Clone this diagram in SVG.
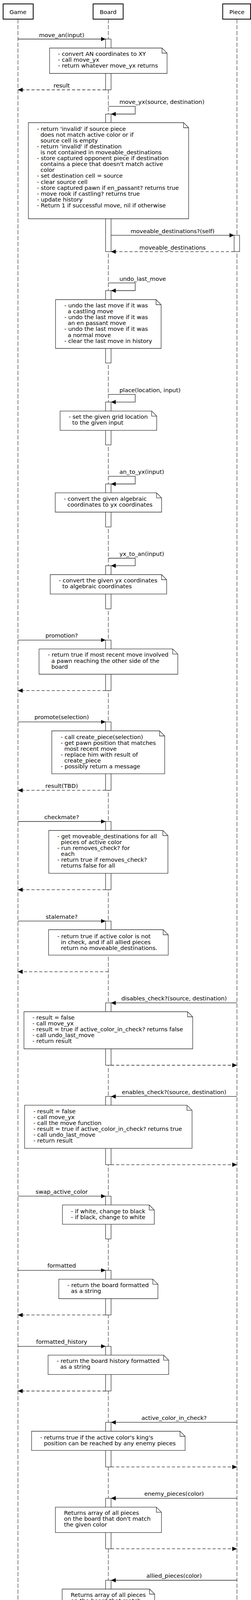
<svg xmlns="http://www.w3.org/2000/svg" width="643" height="4803" viewBox="0 0 643 4803">
<style>
text{font-family:"DejaVu Sans","Liberation Sans",sans-serif;font-size:14.7px;fill:#000}
.m{text-anchor:middle}
.hdr{fill:#fff;stroke:#000;stroke-width:2}
.life{stroke:#444;stroke-width:1.3;stroke-dasharray:11 4;fill:none}
.act{fill:#fff;stroke:#333;stroke-width:1.3}
.nb{fill:#fff;stroke:#333;stroke-width:1.3}
.nf{fill:none;stroke:#333;stroke-width:1.3}
.msg{stroke:#222;stroke-width:1.3;fill:none;marker-end:url(#ah)}
.ret{stroke:#222;stroke-width:1.3;fill:none;stroke-dasharray:8 5;marker-end:url(#ah)}
</style>
<defs>
<marker id="ah" markerUnits="userSpaceOnUse" markerWidth="12" markerHeight="12" refX="12" refY="5.5" orient="auto"><path d="M0,0 L12,5.5 L0,11 z" fill="#000"/></marker>
</defs>
<rect width="643" height="4803" fill="#fff"/>
<g id="lifelines">
<line class="life" x1="46" y1="49" x2="46" y2="4800"/>
<line class="life" x1="277.5" y1="49" x2="277.5" y2="4800"/>
<line class="life" x1="607" y1="49" x2="607" y2="4800"/>
</g>
<g id="Game"><rect class="hdr" x="8" y="10" width="77" height="39"/><text class="m" x="46" y="35.5">Game</text></g>
<g id="Board"><rect class="hdr" x="238.5" y="10" width="77" height="39"/><text class="m" x="277" y="35.5">Board</text></g>
<g id="Piece"><rect class="hdr" x="570.5" y="10" width="71.5" height="39"/><text class="m" x="607" y="35.5">Piece</text></g>
<g id="activations">
<rect class="act" x="270.5" y="100" width="14" height="130"/>
<rect class="act" x="270.5" y="292" width="14" height="352.3"/>
<rect class="act" x="599.7" y="602.3" width="14" height="42"/>
<rect class="act" x="270.5" y="744" width="14" height="185.3"/>
<rect class="act" x="270.5" y="1029.3" width="14" height="109.7"/>
<rect class="act" x="270.5" y="1239" width="14" height="110"/>
<rect class="act" x="270.5" y="1448.3" width="14" height="110.4"/>
<rect class="act" x="270.5" y="1638.6" width="14" height="129.3"/>
<rect class="act" x="270.5" y="1848.1" width="14" height="175.1"/>
<rect class="act" x="270.5" y="2103" width="14" height="174.7"/>
<rect class="act" x="270.5" y="2357.9" width="14" height="40"/>
<rect class="act" x="270.5" y="2567.4" width="14" height="159.6"/>
<rect class="act" x="270.5" y="2806.9" width="14" height="174.7"/>
<rect class="act" x="270.5" y="3062.2" width="14" height="109.5"/>
<rect class="act" x="270.5" y="3252.1" width="14" height="114.3"/>
<rect class="act" x="270.5" y="3446.6" width="14" height="114.4"/>
<rect class="act" x="270.5" y="3641.2" width="14" height="114.2"/>
<rect class="act" x="270.5" y="3835.6" width="14" height="129.3"/>
<rect class="act" x="270.5" y="4045.5" width="14" height="129.3"/>
<rect class="act" x="270.5" y="4254.3" width="14" height="130.4"/>
<rect class="act" x="270.5" y="4427.6" width="14" height="145.2"/>
<rect class="act" x="270.5" y="4653" width="14" height="100.2"/>
</g>
<g id="connectors">
<path class="msg" d="M46,100 H270.5"/><text class="m" x="158" y="95">move_an(input)</text>
<path class="ret" d="M270.5,230 H46"/><text class="m" x="158" y="223.5">result</text>
<path class="msg" d="M277.5,272.3 H346.4 V292 H284.5"/><text x="306" y="266">move_yx(source, destination)</text>
<path class="msg" d="M284.5,602.3 H599.7"/><text class="m" x="442" y="597">moveable_destinations?(self)</text>
<path class="ret" d="M599.7,644.3 H284.5"/><text class="m" x="442" y="638.5">moveable_destinations</text>
<path class="msg" d="M277.5,724.3 H346.4 V744 H284.5"/><text x="306" y="718.5">undo_last_move</text>
<path class="msg" d="M277.5,1009.7 H346.4 V1029.3 H284.5"/><text x="306" y="1003.5">place(location, input)</text>
<path class="msg" d="M277.5,1219.3 H346.4 V1239 H284.5"/><text x="306" y="1212.7">an_to_yx(input)</text>
<path class="msg" d="M277.5,1429 H346.4 V1448.3 H284.5"/><text x="306" y="1422.7">yx_to_an(input)</text>
<path class="msg" d="M46,1638.6 H270.5"/><text class="m" x="158" y="1632.4">promotion?</text>
<path class="ret" d="M270.5,1767.9 H46"/>
<path class="msg" d="M46,1848.1 H270.5"/><text class="m" x="158" y="1841.3">promote(selection)</text>
<path class="ret" d="M270.5,2023.2 H46"/><text class="m" x="158" y="2017">result(TBD)</text>
<path class="msg" d="M46,2103 H270.5"/><text class="m" x="158" y="2096.6">checkmate?</text>
<path class="ret" d="M270.5,2277.7 H46"/>
<path class="msg" d="M46,2357.9 H270.5"/><text class="m" x="158" y="2351.7">stalemate?</text>
<path class="ret" d="M277.5,2487.6 H46"/>
<path class="msg" d="M607,2567.4 H284.5"/><text class="m" x="446" y="2561">disables_check?(source, destination)</text>
<path class="ret" d="M284.5,2727 H607"/>
<path class="msg" d="M607,2806.9 H284.5"/><text class="m" x="446" y="2800.7">enables_check?(source, destination)</text>
<path class="ret" d="M284.5,2981.6 H607"/>
<path class="msg" d="M46,3062.2 H270.5"/><text class="m" x="158" y="3055.7">swap_active_color</text>
<path class="msg" d="M46,3252.1 H270.5"/><text class="m" x="158" y="3245.3">formatted</text>
<path class="ret" d="M270.5,3366.4 H46"/>
<path class="msg" d="M46,3446.6 H270.5"/><text class="m" x="158" y="3439.8">formatted_history</text>
<path class="ret" d="M270.5,3561 H46"/>
<path class="msg" d="M607,3641.2 H284.5"/><text class="m" x="446" y="3634.7">active_color_in_check?</text>
<path class="ret" d="M284.5,3755.4 H607"/>
<path class="msg" d="M607,3835.6 H284.5"/><text class="m" x="446" y="3829.4">enemy_pieces(color)</text>
<path class="ret" d="M284.5,3964.9 H607"/>
<path class="msg" d="M607,4045.5 H284.5"/><text class="m" x="446" y="4038.6">allied_pieces(color)</text>
<path class="ret" d="M284.5,4174.8 H607"/>
<path class="msg" d="M607,4254.3 H284.5"/><text class="m" x="446" y="4248.5">location(piece)</text>
<path class="ret" d="M284.5,4384.7 H607"/>
<path class="msg" d="M607,4427.6 H284.5"/><text class="m" x="446" y="4421.2">valid_location?(position)</text>
<path class="ret" d="M284.5,4572.8 H607"/>
<path class="msg" d="M607,4653 H284.5"/><text class="m" x="446" y="4646.6">contents(position)</text>
<path class="ret" d="M284.5,4753.2 H607"/>
</g>
<g id="note-move_an">
<path class="nb" d="M127,123 H415 L428,136 V188 H127 Z"/><path class="nf" d="M415,123 V136 H428"/>
<text x="148.5" y="143.3">- convert AN coordinates to XY</text>
<text x="148.5" y="158.3">- call move_yx</text>
<text x="148.5" y="173.3">- return whatever move_yx returns</text>
</g>
<g id="note-move_yx">
<path class="nb" d="M72.6,314 H470.3 L483.3,327 V560 H72.6 Z"/><path class="nf" d="M470.3,314 V327 H483.3"/>
<text x="94.6" y="335">- return 'invalid' if source piece</text>
<text x="103.7" y="350">does not match active color or if</text>
<text x="103.7" y="365">source cell is empty</text>
<text x="94.6" y="380">- return 'invalid' if destination</text>
<text x="103.7" y="395">is not contained in moveable_destinations</text>
<text x="94.6" y="410">- store captured opponent piece if destination</text>
<text x="103.7" y="425">contains a piece that doesn't match active</text>
<text x="103.7" y="440">color</text>
<text x="94.6" y="455">- set destination cell = source</text>
<text x="94.6" y="470.7">- clear source cell</text>
<text x="94.6" y="486">- store captured pawn if en_passant? returns true</text>
<text x="94.6" y="501">- move rook if castling? returns true</text>
<text x="94.6" y="516">- update history</text>
<text x="94.6" y="531">- Return 1 if successful move, nil if otherwise</text>
</g>
<g id="note-undo_last_move">
<path class="nb" d="M142.3,767 H399.7 L412.7,780 V892 H142.3 Z"/><path class="nf" d="M399.7,767 V780 H412.7"/>
<text x="164.7" y="787.3">- undo the last move if it was</text>
<text x="173.4" y="802.3">a castling move</text>
<text x="164.7" y="817.3">- undo the last move if it was</text>
<text x="173.4" y="832.3">an en passant move</text>
<text x="164.7" y="847.3">- undo the last move if it was</text>
<text x="173.4" y="862.5">a normal move</text>
<text x="164.7" y="878">- clear the last move in history</text>
</g>
<g id="note-place">
<path class="nb" d="M153.9,1052.3 H388.5 L401.5,1065.3 V1101.7 H153.9 Z"/><path class="nf" d="M388.5,1052.3 V1065.3 H401.5"/>
<text x="175.9" y="1072.3">- set the given grid location</text>
<text x="185" y="1087.3">to the given input</text>
</g>
<g id="note-an_to_yx">
<path class="nb" d="M141.5,1261.7 H401 L414,1274.7 V1311 H141.5 Z"/><path class="nf" d="M401,1261.7 V1274.7 H414"/>
<text x="163.4" y="1282.3">- convert the given algebraic</text>
<text x="172.6" y="1297.3">coordinates to yx coordinates</text>
</g>
<g id="note-yx_to_an">
<path class="nb" d="M128.6,1471 H413.9 L426.9,1484 V1520.7 H128.6 Z"/><path class="nf" d="M413.9,1471 V1484 H426.9"/>
<text x="150.6" y="1491">- convert the given yx coordinates</text>
<text x="159.7" y="1506">to algebraic coordinates</text>
</g>
<g id="note-promotion">
<path class="nb" d="M100,1661.4 H442.5 L455.5,1674.4 V1726 H100 Z"/><path class="nf" d="M442.5,1661.4 V1674.4 H455.5"/>
<text x="122.4" y="1681.2">- return true if most recent move involved</text>
<text x="131.5" y="1696.6">a pawn reaching the other side of the</text>
<text x="131.5" y="1711.6">board</text>
</g>
<g id="note-promote">
<path class="nb" d="M132.7,1871 H408.9 L421.9,1884 V1980.9 H132.7 Z"/><path class="nf" d="M408.9,1871 V1884 H421.9"/>
<text x="155.6" y="1891.8">- call create_piece(selection)</text>
<text x="155.6" y="1906.8">- get pawn position that matches</text>
<text x="164.7" y="1921.8">most recent move</text>
<text x="155.6" y="1936.9">- replace him with result of</text>
<text x="164.7" y="1951.9">create_piece</text>
<text x="155.6" y="1966.9">- possibly return a message</text>
</g>
<g id="note-checkmate">
<path class="nb" d="M124.9,2126 H417.2 L430.2,2139 V2235.7 H124.9 Z"/><path class="nf" d="M417.2,2126 V2139 H430.2"/>
<text x="146.8" y="2145.9">- get moveable_destinations for all</text>
<text x="156" y="2160.9">pieces of active color</text>
<text x="146.8" y="2176">- run removes_check? for</text>
<text x="156" y="2191">each</text>
<text x="146.8" y="2206">- return true if removes_check?</text>
<text x="156" y="2221">returns false for all</text>
</g>
<g id="note-stalemate">
<path class="nb" d="M124.4,2380 H418 L431,2393 V2445.2 H124.4 Z"/><path class="nf" d="M418,2380 V2393 H431"/>
<text x="146.8" y="2401.6">- return true if active color is not</text>
<text x="156" y="2416.6">in check, and if all allied pieces</text>
<text x="156" y="2431.6">return no moveable_destinations.</text>
</g>
<g id="note-disables_check">
<path class="nb" d="M61.4,2590 H480.6 L493.6,2603 V2685 H61.4 Z"/><path class="nf" d="M480.6,2590 V2603 H493.6"/>
<text x="83" y="2610.4">- result = false</text>
<text x="83" y="2625.4">- call move_yx</text>
<text x="83" y="2640.4">- result = true if active_color_in_check? returns false</text>
<text x="83" y="2655.4">- call undo_last_move</text>
<text x="83" y="2670.4">- return result</text>
</g>
<g id="note-enables_check">
<path class="nb" d="M63,2829.4 H479 L492,2842.4 V2939.6 H63 Z"/><path class="nf" d="M479,2829.4 V2842.4 H492"/>
<text x="85.4" y="2850.2">- result = false</text>
<text x="85.4" y="2865.2">- call move_yx</text>
<text x="85.4" y="2880.2">- call the move function</text>
<text x="85.4" y="2895.2">- result = true if active_color_in_check? returns true</text>
<text x="85.4" y="2910.2">- call undo_last_move</text>
<text x="85.4" y="2925.2">- return result</text>
</g>
<g id="note-swap_active_color">
<path class="nb" d="M160,3084.7 H382.3 L395.3,3097.7 V3134.2 H160 Z"/><path class="nf" d="M382.3,3084.7 V3097.7 H395.3"/>
<text x="181.7" y="3105.5">- if white, change to black</text>
<text x="181.7" y="3120.5">- if black, change to white</text>
</g>
<g id="note-formatted">
<path class="nb" d="M150.6,3274.6 H391.5 L404.5,3287.6 V3324.5 H150.6 Z"/><path class="nf" d="M391.5,3274.6 V3287.6 H404.5"/>
<text x="172.6" y="3295.4">- return the board formatted</text>
<text x="181.7" y="3310.4">as a string</text>
</g>
<g id="note-formatted_history">
<path class="nb" d="M123.2,3469.2 H419.3 L432.3,3482.2 V3518.7 H123.2 Z"/><path class="nf" d="M419.3,3469.2 V3482.2 H432.3"/>
<text x="145.2" y="3489.3">- return the board history formatted</text>
<text x="154.3" y="3504.3">as a string</text>
</g>
<g id="note-active_color_in_check">
<path class="nb" d="M80.9,3664 H461.2 L474.2,3677 V3713.2 H80.9 Z"/><path class="nf" d="M461.2,3664 V3677 H474.2"/>
<text x="102.9" y="3684.5">- returns true if the active color's king's</text>
<text x="112.4" y="3699.5">position can be reached by any enemy pieces</text>
</g>
<g id="note-enemy_pieces">
<path class="nb" d="M141.9,3858.4 H400.6 L413.6,3871.4 V3923.3 H141.9 Z"/><path class="nf" d="M400.6,3858.4 V3871.4 H413.6"/>
<text x="163.9" y="3878.2">Returns array of all pieces</text>
<text x="163.9" y="3893.2">on the board that don't match</text>
<text x="163.9" y="3908.2">the given color</text>
</g>
<g id="note-allied_pieces">
<path class="nb" d="M159.3,4068 H383.2 L396.2,4081 V4132.8 H159.3 Z"/><path class="nf" d="M383.2,4068 V4081 H396.2"/>
<text x="181.3" y="4088.1">Returns array of all pieces</text>
<text x="181.3" y="4103.1">on the board that match</text>
<text x="181.3" y="4118.1">the given color</text>
</g>
<g id="note-location">
<path class="nb" d="M167.2,4277.4 H374.9 L387.9,4290.4 V4342.3 H167.2 Z"/><path class="nf" d="M374.9,4277.4 V4290.4 H387.9"/>
<text x="189.2" y="4297">Returns the position on</text>
<text x="189.2" y="4312">the board for a given</text>
<text x="189.2" y="4327">piece</text>
</g>
<g id="note-valid_location">
<path class="nb" d="M149.3,4450.3 H392.7 L405.7,4463.3 V4530.2 H149.3 Z"/><path class="nf" d="M392.7,4450.3 V4463.3 H405.7"/>
<text x="171.3" y="4470.6">- Returns true if the position</text>
<text x="180.9" y="4485.6">exists on the board</text>
<text x="171.3" y="4500.6">- Returns false if out of</text>
<text x="180.9" y="4515.6">bounds</text>
</g>
<g id="note-contents">
<path class="nb" d="M163.4,4676 H378.6 L391.6,4689 V4710.9 H163.4 Z"/><path class="nf" d="M378.6,4676 V4689 H391.6"/>
<text x="185.4" y="4696.3">- Returns contents of cell</text>
</g>
</svg>
